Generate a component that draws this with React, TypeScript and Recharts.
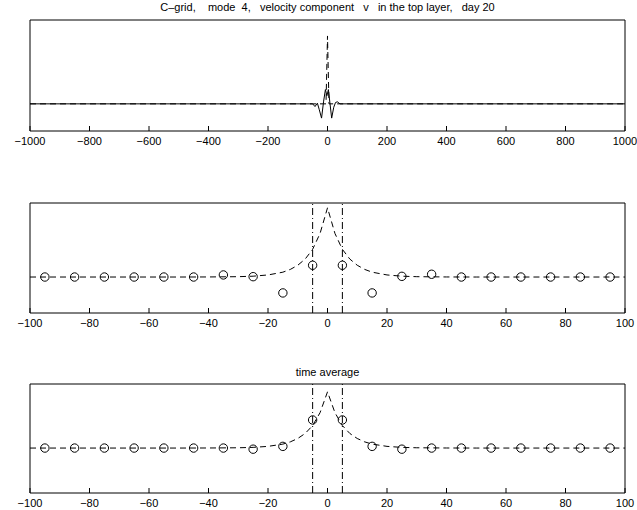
import { ComposedChart, Line, Scatter, XAxis, YAxis, ReferenceLine } from "recharts";

const wideTicks = [-1000, -800, -600, -400, -200, 0, 200, 400, 600, 800, 1000];
const narrowTicks = [-100, -80, -60, -40, -20, 0, 20, 40, 60, 80, 100];

// top panel: model wiggle (solid) and analytic spike (dashed)
const waveX = [-1000, -50, -42, -34, -28, -20, -13, -7, -2, 3, 8, 14, 21, 27, 33, 42, 1000];
const waveV = [0, 0, -0.04, 0.01, -0.08, -0.21, 0.04, 0.21, 0.12, 0.21, 0.02, -0.21, -0.05, 0.02, 0.03, 0, 0];
const spikeX = [-1000, -5, 0, 5, 1000];
const spikeV = [0, 0, 1, 0, 0];

// analytic profile (dashed) used in the two lower panels
const profileX = [-100, -50, -40, -30, -25, -20, -15, -12.5, -10, -7.5, -5, -2.5, 0, 2.5, 5, 7.5, 10, 12.5, 15, 20, 25, 30, 40, 50, 100];
const profileV = [0, 0, 0.001, 0.005, 0.012, 0.03, 0.07, 0.11, 0.17, 0.26, 0.4, 0.63, 1, 0.63, 0.4, 0.26, 0.17, 0.11, 0.07, 0.03, 0.012, 0.005, 0.001, 0, 0];

// grid points of the C-grid
const gridX = [-95, -85, -75, -65, -55, -45, -35, -25, -15, -5, 5, 15, 25, 35, 45, 55, 65, 75, 85, 95];
const day20V = [0, 0, 0, 0, 0, 0, 0.03, 0.005, -0.23, 0.17, 0.17, -0.23, 0.01, 0.04, 0, 0, 0, 0, 0, 0];
const meanV = [0, 0, 0, 0, 0, 0, 0, -0.02, 0.03, 0.5, 0.5, 0.03, -0.02, 0, 0, 0, 0, 0, 0, 0];

const guideX = [-5, 5];

const zip = (xs: number[], ys: number[]) => xs.map((x, i) => ({ x, y: ys[i] }));

const FONT = "'Liberation Sans', Arial, Helvetica, sans-serif";
const fmt = (v: number) => (v < 0 ? "\u2212" + Math.abs(v) : String(v));

function BottomTick(props: any) {
  const { x, y, payload } = props;
  return (
    <g>
      <line x1={x} y1={y} x2={x} y2={y - 5} stroke="#000" strokeWidth={1} />
      <text x={x} y={y + 14} textAnchor="middle" fontSize={11} fontFamily={FONT} fill="#000">
        {fmt(payload.value)}
      </text>
    </g>
  );
}

function TopTick(props: any) {
  const { x, y } = props;
  return <line x1={x} y1={y} x2={x} y2={y + 5} stroke="#000" strokeWidth={1} />;
}

const Ring = (props: any) => (
  <circle cx={props.cx} cy={props.cy} r={4.2} fill="none" stroke="#000" strokeWidth={1} />
);

type PanelProps = {
  top: number;
  boxH: number;
  xDomain: [number, number];
  ticks: number[];
  yDomain: [number, number];
  solid?: { x: number; y: number }[];
  dashed: { x: number; y: number }[];
  rings?: { x: number; y: number }[];
  guides?: number[];
};

function Panel({ top, boxH, xDomain, ticks, yDomain, solid, dashed, rings, guides }: PanelProps) {
  const mTop = 6;
  const bottomAxisH = 20;
  return (
    <div style={{ position: "absolute", left: 0, top: top - mTop }}>
      <ComposedChart
        width={637}
        height={boxH + mTop + bottomAxisH + 2}
        margin={{ top: mTop - 1, right: 11, bottom: 2, left: 29 }}
      >
        <XAxis
          dataKey="x"
          type="number"
          domain={xDomain}
          ticks={ticks}
          allowDataOverflow
          height={bottomAxisH}
          tickSize={0}
          tickMargin={0}
          tickLine={false}
          axisLine={{ stroke: "#000" }}
          tick={(p: any) => <BottomTick {...p} />}
          interval={0}
        />
        <XAxis
          xAxisId="top"
          orientation="top"
          type="number"
          domain={xDomain}
          ticks={ticks}
          allowDataOverflow
          height={1}
          tickSize={0}
          tickMargin={0}
          tickLine={false}
          axisLine={{ stroke: "#000" }}
          tick={(p: any) => <TopTick {...p} />}
          interval={0}
        />
        <YAxis
          dataKey="y"
          type="number"
          domain={yDomain}
          allowDataOverflow
          width={1}
          tick={false}
          tickLine={false}
          axisLine={{ stroke: "#000" }}
        />
        <YAxis
          yAxisId="r"
          orientation="right"
          type="number"
          domain={yDomain}
          allowDataOverflow
          width={1}
          tick={false}
          tickLine={false}
          axisLine={{ stroke: "#000" }}
        />
        {(guides || []).map((g) => (
          <ReferenceLine key={g} x={g} stroke="#000" strokeWidth={1} strokeDasharray="7 3 1 3" />
        ))}
        {solid && (
          <Line
            data={solid}
            dataKey="y"
            type="linear"
            stroke="#000"
            strokeWidth={1}
            dot={false}
            isAnimationActive={false}
          />
        )}
        <Line
          data={dashed}
          dataKey="y"
          type="linear"
          stroke="#000"
          strokeWidth={1}
          strokeDasharray="6 4"
          dot={false}
          isAnimationActive={false}
        />
        {rings && <Scatter data={rings} dataKey="y" shape={Ring} isAnimationActive={false} />}
      </ComposedChart>
    </div>
  );
}

export default function App() {
  return (
    <div
      style={{
        position: "absolute",
        left: 0,
        top: 0,
        width: 637,
        height: 510,
        background: "#fff",
        fontFamily: FONT,
        overflow: "hidden",
      }}
    >
      <div
        style={{
          position: "absolute",
          left: 30,
          width: 595,
          top: 1,
          textAlign: "center",
          fontSize: 11,
          whiteSpace: "pre",
          color: "#000",
        }}
      >
        {"C\u2013grid,    mode  4,   velocity component   v   in the top layer,   day 20"}
      </div>
      <Panel
        top={20}
        boxH={111}
        xDomain={[-1000, 1000]}
        ticks={wideTicks}
        yDomain={[-0.4, 1.235]}
        solid={zip(waveX, waveV)}
        dashed={zip(spikeX, spikeV)}
      />
      <Panel
        top={203}
        boxH={110}
        xDomain={[-100, 100]}
        ticks={narrowTicks}
        yDomain={[-0.52, 1.07]}
        dashed={zip(profileX, profileV)}
        rings={zip(gridX, day20V)}
        guides={guideX}
      />
      <div
        style={{
          position: "absolute",
          left: 30,
          width: 595,
          top: 366,
          textAlign: "center",
          fontSize: 11,
          color: "#000",
        }}
      >
        time average
      </div>
      <Panel
        top={384}
        boxH={109}
        xDomain={[-100, 100]}
        ticks={narrowTicks}
        yDomain={[-0.8, 1.14]}
        dashed={zip(profileX, profileV)}
        rings={zip(gridX, meanV)}
        guides={guideX}
      />
    </div>
  );
}
